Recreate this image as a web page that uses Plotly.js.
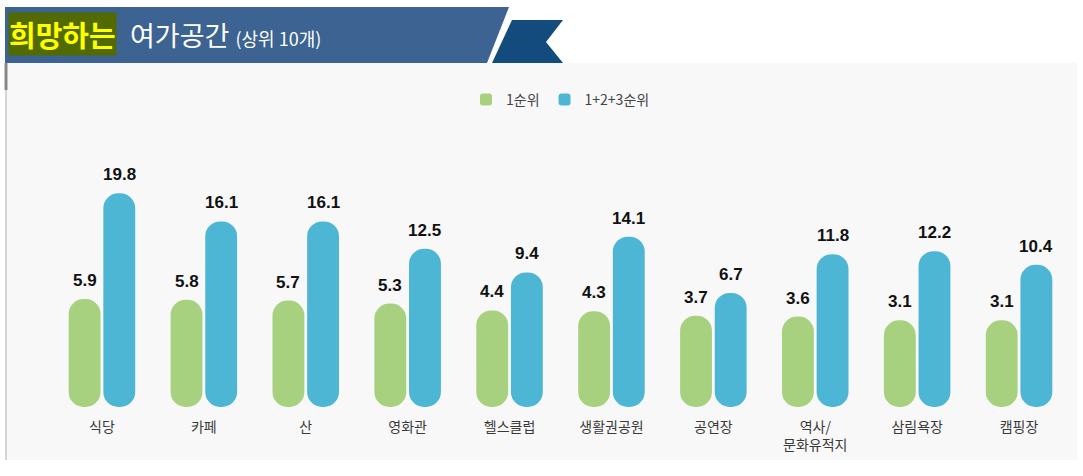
<!DOCTYPE html>
<html>
<head>
<meta charset="utf-8">
<script src="https://cdn.plot.ly/plotly-3.0.1.min.js"></script>
<style>
  html, body { margin: 0; padding: 0; background: #fff; }
  #leisure { width: 1083px; height: 476px; }
</style>
</head>
<body>
<div id="leisure"></div>
<script>
/***** 희망하는 여가공간 (상위 10개) *****/
var places = ['식당', '카페', '산', '영화관', '헬스클럽', '생활권공원', '공연장', '역사/<br>문화유적지', '삼림욕장', '캠핑장'];
var firstRank = [5.9, 5.8, 5.7, 5.3, 4.4, 4.3, 3.7, 3.6, 3.1, 3.1];
var topThree = [19.8, 16.1, 16.1, 12.5, 9.4, 14.1, 6.7, 11.8, 12.2, 10.4];

// the original draws bars from a floor below zero, so keep that floor
var floorLevel = -8.3;

var W = 1083, H = 476;
var margin = {l: 51, r: 13, t: 150, b: 69};
var plotW = W - margin.l - margin.r;
var plotH = H - margin.t - margin.b;
function px(x) { return (x - margin.l) / plotW; }
function py(y) { return (H - margin.b - y) / plotH; }

var numFont = {family: 'Liberation Sans, Arial, sans-serif', size: 17, color: '#111', weight: 'bold'};
var krFont = 'Noto Sans CJK KR, Noto Sans, sans-serif';

var bargap = 0.32, bargroupgap = 0.08;
// half of one group slot, in pixels, to put the value labels over each bar
var slotHalf = plotW / places.length * (1 - bargap) / 4;

function series(name, vals, color) {
  return {
    x: places,
    y: vals.map(function (v) { return v - floorLevel; }),
    base: floorLevel,
    customdata: vals,
    type: 'bar',
    name: name,
    hovertemplate: '%{x}: %{customdata}<extra>' + name + '</extra>',
    marker: {color: color}
  };
}

function valueLabels(vals, side) {
  return vals.map(function (v, i) {
    return {
      x: places[i], y: v, xref: 'x', yref: 'y',
      text: v.toFixed(1), showarrow: false,
      xanchor: 'center', yanchor: 'bottom',
      xshift: side * slotHalf, yshift: 7,
      font: numFont
    };
  });
}

var green = series('1순위', firstRank, '#a8d17f');
var blue = series('1+2+3순위', topThree, '#4db6d5');

var layout = {
  width: W,
  height: H,
  margin: margin,
  paper_bgcolor: '#ffffff',
  plot_bgcolor: 'rgba(0,0,0,0)',
  barmode: 'group',
  bargap: bargap,
  bargroupgap: bargroupgap,
  barcornerradius: '50%',
  showlegend: true,
  legend: {
    orientation: 'h',
    x: 0.5, xanchor: 'center',
    y: py(100), yanchor: 'middle',
    font: {family: krFont, size: 14, color: '#444'},
    bgcolor: 'rgba(0,0,0,0)',
    itemwidth: 30,
    itemclick: false
  },
  xaxis: {
    showgrid: false, zeroline: false, showline: false, ticks: '',
    ticklabelstandoff: 10,
    tickfont: {family: krFont, size: 14, color: '#3a3a3a'},
    fixedrange: true
  },
  yaxis: {
    range: [floorLevel, 25.5],
    visible: false, showgrid: false, zeroline: false,
    fixedrange: true
  },
  shapes: [
    // light panel behind the chart
    {type: 'rect', xref: 'paper', yref: 'paper', layer: 'below',
     x0: px(5), x1: px(1077), y0: py(460), y1: py(63),
     fillcolor: '#f8f8f8', line: {width: 0}},
    {type: 'line', xref: 'paper', yref: 'paper', layer: 'below',
     x0: px(6), x1: px(6), y0: py(460), y1: py(63),
     line: {color: '#c8c8c8', width: 1.5}},
    {type: 'line', xref: 'paper', yref: 'paper', layer: 'below',
     x0: px(6), x1: px(6), y0: py(90), y1: py(63),
     line: {color: '#888', width: 3}},
    // title banner
    {type: 'path', xref: 'paper', yref: 'paper',
     path: 'M' + px(5) + ',' + py(7) + ' L' + px(509) + ',' + py(7) + ' L' + px(487) + ',' + py(63) + ' L' + px(5) + ',' + py(63) + ' Z',
     fillcolor: '#3c6391', line: {width: 0}},
    {type: 'path', xref: 'paper', yref: 'paper',
     path: 'M' + px(512) + ',' + py(20) + ' L' + px(563) + ',' + py(20) + ' L' + px(546) + ',' + py(42) + ' L' + px(563) + ',' + py(63) + ' L' + px(492) + ',' + py(63) + ' Z',
     fillcolor: '#144b7d', line: {width: 0}}
  ],
  annotations: [
    {xref: 'paper', yref: 'paper', x: px(8), y: py(34), xanchor: 'left', yanchor: 'middle',
     text: '희망하는', showarrow: false, bgcolor: '#526b00', borderpad: 0,
     font: {family: krFont, size: 29, color: '#ffff00', weight: 'bold'}},
    {xref: 'paper', yref: 'paper', x: px(128), y: py(34), xanchor: 'left', yanchor: 'middle',
     text: '여가공간 <span style="font-size:18px">(상위 10개)</span>', showarrow: false,
     font: {family: krFont, size: 27, color: '#ffffff'}}
  ].concat(valueLabels(firstRank, -1), valueLabels(topThree, 1))
};

var config = {displayModeBar: false};

var data = [green, blue];
Plotly.newPlot('leisure', data, layout, config);
</script>
</body>
</html>
